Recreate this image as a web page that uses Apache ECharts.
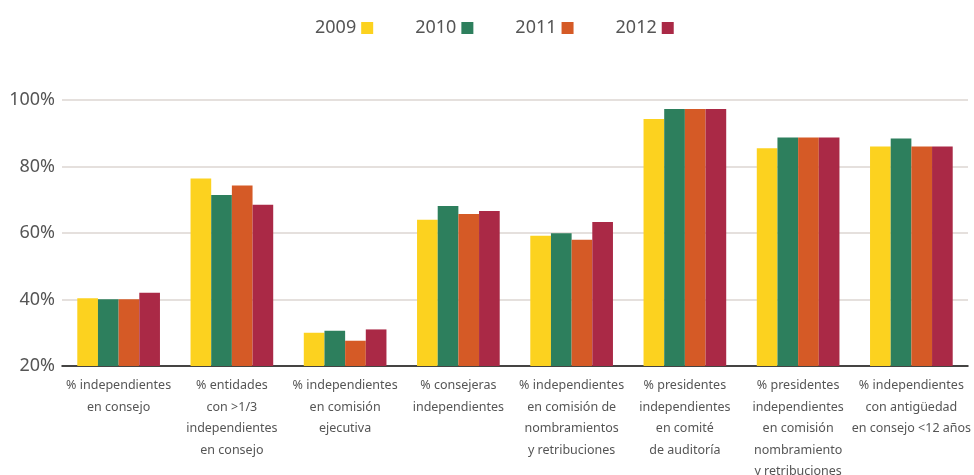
<!DOCTYPE html>
<html>
<head>
<meta charset="utf-8">
<script src="https://cdn.jsdelivr.net/npm/echarts@6/dist/echarts.min.js"></script>
<style>
  html, body { margin: 0; padding: 0; background: #fff; }
  #chart { width: 974px; height: 475px; }
</style>
</head>
<body>
<div id="chart"></div>
<script>
// categories (line breaks as in the original)
var categories = [
  '% independientes\nen consejo',
  '% entidades\ncon >1/3\nindependientes\nen consejo',
  '% independientes\nen comisión\nejecutiva',
  '% consejeras\nindependientes',
  '% independientes\nen comisión de\nnombramientos\ny retribuciones',
  '% presidentes\nindependientes\nen comité\nde auditoría',
  '% presidentes\nindependientes\nen comisión\nnombramiento\ny retribuciones',
  '% independientes\ncon antigüedad\nen consejo <12 años'
]
var years = ['2009', '2010', '2011', '2012']
var v2009 = [40.4, 76.4, 30.0, 64.0, 59.2, 94.3, 85.5, 86.0]
var v2010 = [40.1, 71.4, 30.6, 68.1, 59.9, 97.3, 88.7, 88.4]
var v2011 = [40.1, 74.3, 27.6, 65.7, 58.0, 97.3, 88.7, 86.0]
var v2012 = [42.0, 68.5, 31.0, 66.6, 63.3, 97.3, 88.7, 86.0]
var colors = ['#fcd21f', '#2d7f5d', '#d55a26', '#aa2946']

var font = '"Noto Sans", sans-serif'
var values = [v2009, v2010, v2011, v2012]

var series = years.map(function (y, i) {
  return {
    name: y,
    type: 'bar',
    data: values[i],
    barGap: '0%',
    barCategoryGap: '27%',
    itemStyle: { color: colors[i] }
  }
})

var chart = echarts.init(document.getElementById('chart'))
chart.setOption({
  animation: false,
  color: colors,
  legend: {
    data: years,
    top: 14,
    left: 310,
    align: 'right',
    icon: 'rect',
    itemWidth: 12,
    itemHeight: 12,
    itemGap: 42,
    textStyle: { fontFamily: font, fontSize: 18, color: '#555', padding: [0, 0, 0, 0] }
  },
  grid: { left: 62, right: 6, top: 100, bottom: 109, outerBoundsMode: 'none' },
  xAxis: {
    type: 'category',
    data: categories,
    axisLine: { lineStyle: { color: '#111', width: 1.5 } },
    axisTick: { show: false },
    axisLabel: {
      interval: 0,
      margin: 9,
      fontFamily: font,
      fontSize: 12.5,
      lineHeight: 21.5,
      color: '#555'
    }
  },
  yAxis: {
    type: 'value',
    min: 20,
    max: 100,
    interval: 20,
    axisLine: { show: false },
    axisTick: { show: false },
    splitLine: { lineStyle: { color: '#dcd6d2', width: 1.5 } },
    axisLabel: {
      formatter: '{value}%',
      margin: 7,
      fontFamily: font,
      fontSize: 18,
      color: '#555'
    }
  },
  series: series
})
</script>
</body>
</html>
